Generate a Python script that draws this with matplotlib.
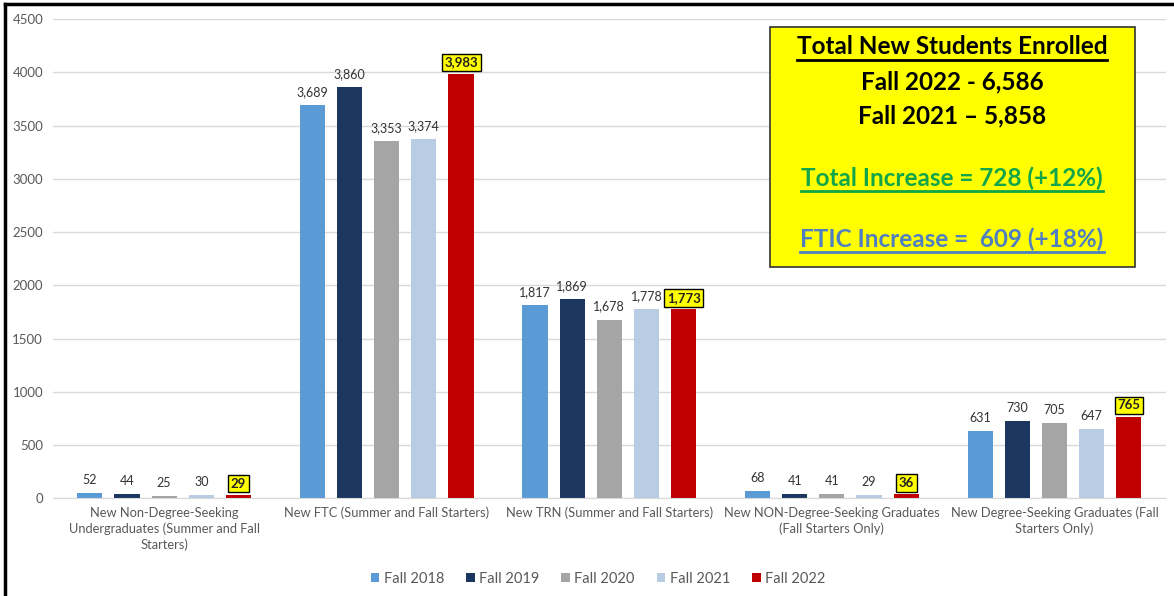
import matplotlib
matplotlib.use('Agg')
import matplotlib.pyplot as plt
from matplotlib.lines import Line2D
from matplotlib.patches import Rectangle
import numpy as np

plt.rcParams['font.family'] = ['Lato', 'DejaVu Sans']

categories = [
    'New Non-Degree-Seeking\nUndergraduates (Summer and Fall\nStarters)',
    'New FTC (Summer and Fall Starters)',
    'New TRN (Summer and Fall Starters)',
    'New NON-Degree-Seeking Graduates\n(Fall Starters Only)',
    'New Degree-Seeking Graduates (Fall\nStarters Only)',
]
series = ['Fall 2018', 'Fall 2019', 'Fall 2020', 'Fall 2021', 'Fall 2022']
fall_2018 = [52, 3689, 1817, 68, 631]
fall_2019 = [44, 3860, 1869, 41, 730]
fall_2020 = [25, 3353, 1678, 41, 705]
fall_2021 = [30, 3374, 1778, 29, 647]
fall_2022 = [29, 3983, 1773, 36, 765]
values = [fall_2018, fall_2019, fall_2020, fall_2021, fall_2022]
colors = ['#5B9BD5', '#1B365F', '#A5A5A5', '#B8CCE4', '#C00000']

box_lines = [
    ('Total New Students Enrolled', 'black', True),
    ('Fall 2022 - 6,586', 'black', False),
    ('Fall 2021 \u2013 5,858', 'black', False),
    ('Total Increase = 728 (+12%)', '#12A54A', True),
    ('FTIC Increase =  609 (+18%)', '#4F7FC0', True),
]

fig = plt.figure(figsize=(11.74, 5.96), dpi=100)
ax = fig.add_axes([0.045, 0.164, 0.948, 0.804])

x = np.arange(len(categories))
step = 0.167
width = 0.113
for i, (name, vals, c) in enumerate(zip(series, values, colors)):
    pos = x + (i - 2) * step
    ax.bar(pos, vals, width=width, color=c, label=name, zorder=2)
    for p, v in zip(pos, vals):
        if i == 4:
            ax.annotate(f'{v:,}', (p, v), xytext=(0, 4), textcoords='offset points',
                        ha='center', va='bottom', fontsize=9.5, fontweight='bold', color='#222222',
                        bbox=dict(boxstyle='square,pad=0.2', fc='#FFFF00', ec='black', lw=1))
        else:
            ax.annotate(f'{v:,}', (p, v), xytext=(0, 5), textcoords='offset points',
                        ha='center', va='bottom', fontsize=9, color='#333333')

ax.set_xlim(-0.5, len(categories) - 0.5)
ax.set_ylim(0, 4500)
ax.set_yticks(range(0, 4501, 500))
ax.yaxis.grid(True, color='#D9D9D9', lw=1, zorder=0)
ax.set_axisbelow(True)
for s in ['top', 'right', 'left']:
    ax.spines[s].set_visible(False)
ax.spines['bottom'].set_color('#D9D9D9')
ax.tick_params(axis='both', length=0, colors='#595959', labelsize=9.5)
ax.tick_params(axis='y', pad=7)
ax.set_xticks(x)
ax.set_xticklabels(categories, fontsize=9.3, color='#595959', linespacing=1.35)
ax.tick_params(axis='x', pad=6)

ax.legend(loc='lower center', bbox_to_anchor=(0.49, -0.21), ncol=5, frameon=False,
          fontsize=10.5, handlelength=0.6, handleheight=0.6, handletextpad=0.3,
          columnspacing=1.5, labelcolor='#595959')

# yellow summary box
fig.patches.append(Rectangle((770 / 1174, 1 - 267 / 596), 365 / 1174, 240 / 596,
                             transform=fig.transFigure, fc='#FFFF00', ec='#333333', lw=1.2, zorder=5))
ys = [47, 82, 116, 178, 239]
texts = []
for (t, c, ul), yp in zip(box_lines, ys):
    txt = fig.text(952 / 1174, 1 - yp / 596, t, ha='center', va='center', fontsize=17.5,
                   fontweight='bold', color=c, zorder=6)
    texts.append((txt, c, ul))

fig.canvas.draw()
r = fig.canvas.get_renderer()
for txt, c, ul in texts:
    if not ul:
        continue
    bb = txt.get_window_extent(r)
    yy = bb.y0 - 1
    fig.add_artist(Line2D([bb.x0 / 1174, bb.x1 / 1174], [yy / 596, yy / 596],
                          transform=fig.transFigure, color=c, lw=2, zorder=6))

# frame lines on top and left
fig.add_artist(Line2D([5 / 1174, 1], [1 - 4 / 596, 1 - 4 / 596], transform=fig.transFigure, color='black', lw=2.5))
fig.add_artist(Line2D([5 / 1174, 5 / 1174], [0, 1 - 4 / 596], transform=fig.transFigure, color='black', lw=2.5))

fig.savefig('out.png', dpi=100)
